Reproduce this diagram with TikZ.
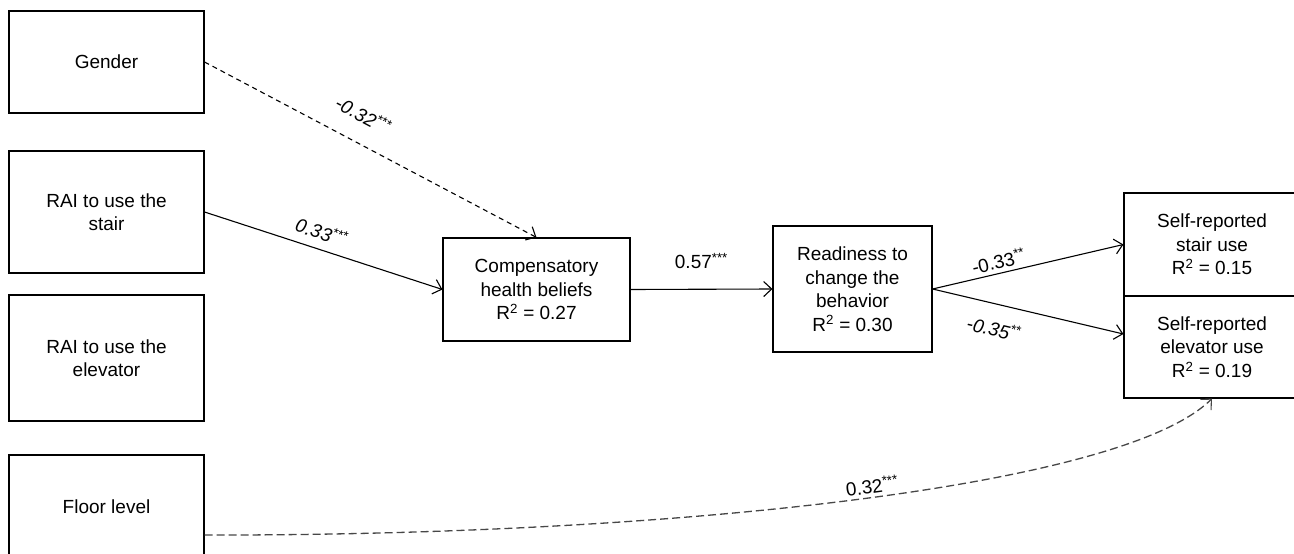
\documentclass[tikz,border=0pt]{standalone}
\usepackage{fontspec}
\setmainfont{Liberation Sans}
\usetikzlibrary{arrows.meta}
\definecolor{mygray}{rgb}{0.28, 0.28, 0.28}

\begin{document}
\begin{tikzpicture}[x=1pt, y=-1pt,
        varbox/.style={draw, line width=1.1pt, align=center, inner sep=0pt, font=\fontsize{19}{23.5}\selectfont},
        effect/.style={line width=1.1pt, -{Straight Barb[length=8pt, width=15pt, line width=1.1pt]}},
        coef/.style={font=\fontsize{19}{23}\selectfont, sloped, inner sep=2pt}]

            \useasboundingbox (0,0) rectangle (1294,554);
            \clip (0,0) rectangle (1294,554);

            \node[varbox, minimum width=195pt, minimum height=102pt] (gender) at (106.5,62) {Gender};
            \node[varbox, minimum width=195pt, minimum height=122pt] (raistair) at (106.5,212) {RAI to use the\\stair};
            \node[varbox, minimum width=195pt, minimum height=126pt] (raielev) at (106.5,358) {RAI to use the\\elevator};
            \node[varbox, minimum width=195pt, minimum height=104pt] (floor) at (106.5,507) {Floor level};

            \node[varbox, minimum width=187pt, minimum height=103pt] (chb) at (536.5,289.5) {Compensatory\\health beliefs\\R\textsuperscript{2} = 0.27};
            \node[varbox, minimum width=159pt, minimum height=126pt] (ready) at (852.5,289) {Readiness to\\change the\\behavior\\R\textsuperscript{2} = 0.30};

            \node[varbox, minimum width=176pt, minimum height=103pt] (stairuse) at (1212,244.5) {Self-reported\\stair use\\R\textsuperscript{2} = 0.15};
            \node[varbox, minimum width=176pt, minimum height=102pt] (elevuse) at (1212,347) {Self-reported\\elevator use\\R\textsuperscript{2} = 0.19};

            \draw[effect, dash pattern=on 5pt off 4pt] (gender.east) -- node[coef, pos=0.44, above=17pt, font=\fontsize{19}{23}\selectfont\itshape] {-0.32\textsuperscript{***}} (chb.north);
            \draw[effect] (raistair.east) -- node[coef, pos=0.47, above=7pt, font=\fontsize{19}{23}\selectfont\itshape] {0.33\textsuperscript{***}} (chb.west);
            \draw[effect] (chb.east) -- node[coef, above=18pt] {0.57\textsuperscript{***}} (ready.west);
            \draw[effect] (ready.east) -- node[coef, pos=0.36, above=2pt] {-0.33\textsuperscript{**}} (stairuse.west);
            \draw[effect] (ready.east) -- node[coef, pos=0.35, below=14pt, font=\fontsize{19}{23}\selectfont\itshape] {-0.35\textsuperscript{**}} ([yshift=13pt]elevuse.west);

            \draw[effect, mygray, line width=1.3pt, dash pattern=on 8pt off 4pt] ([yshift=-28pt]floor.east) .. controls (650,536) and (1120,490) .. node[coef, pos=0.53, above=1pt, black] {0.32\textsuperscript{***}} (elevuse.south);
        \end{tikzpicture}
\end{document}
